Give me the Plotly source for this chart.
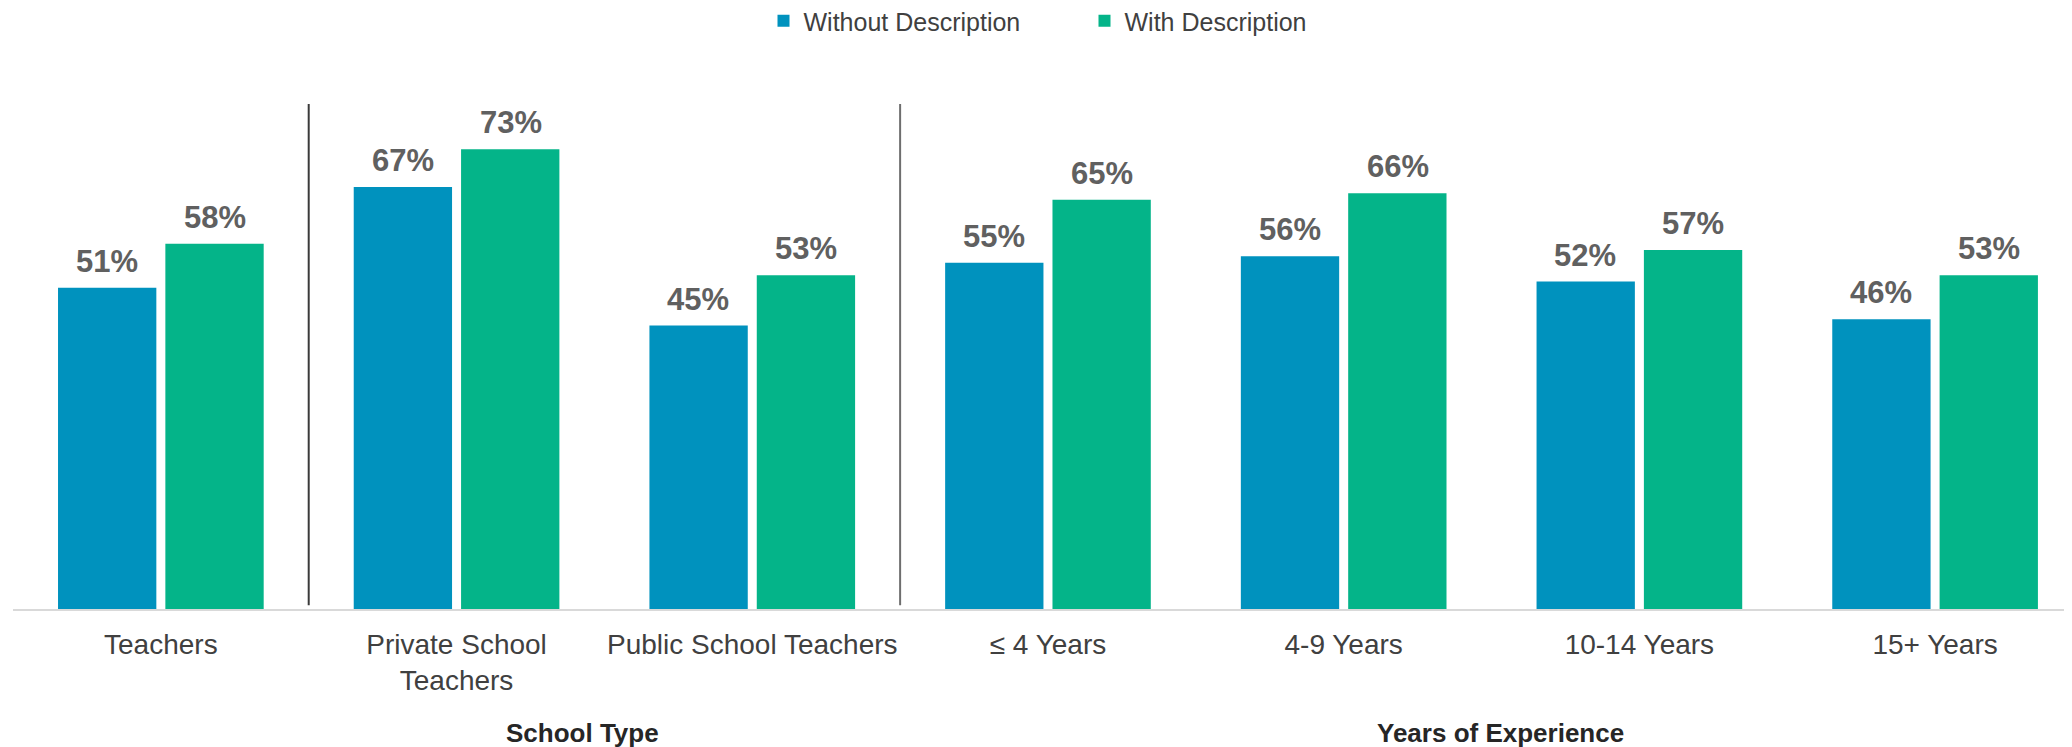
import plotly.graph_objects as go

# --- Dados ---
categorias = ["Teachers", "Private School<br>Teachers", "Public School Teachers",
              "≤ 4 Years", "4-9 Years", "10-14 Years", "15+ Years"]
sem_descricao = [51, 67, 45, 55, 56, 52, 46]
com_descricao = [58, 73, 53, 65, 66, 57, 53]
grupos = ["School Type", "Years of Experience"]

AZUL = "#0092BE"
VERDE = "#04B489"
CINZA_ROTULO = "#606060"
FONTE = "Liberation Sans, Arial, sans-serif"

x = list(range(len(categorias)))

fig = go.Figure()
fig.add_trace(go.Bar(x=x, y=sem_descricao, name="Without Description",
                     marker=dict(color=AZUL, line=dict(width=0))))
fig.add_trace(go.Bar(x=x, y=com_descricao, name="With Description",
                     marker=dict(color=VERDE, line=dict(width=0))))

# rótulos de dados acima das barras
for serie, deslocamento in ((sem_descricao, -54), (com_descricao, 54)):
    for xi, v in zip(x, serie):
        fig.add_annotation(x=xi, y=v, text=f"<b>{v}%</b>", showarrow=False,
                           xref="x", yref="y", xanchor="center", yanchor="bottom",
                           xshift=deslocamento, yshift=7,
                           font=dict(family=FONTE, size=31, color=CINZA_ROTULO))

# linhas divisórias entre blocos
for xd, cor in ((0.5, "#3a3a3a"), (2.5, "#6e6e6e")):
    fig.add_shape(type="line", xref="x", yref="y", x0=xd, x1=xd, y0=0.6, y1=80.2,
                  line=dict(color=cor, width=2))

# títulos dos grupos
for texto, xg in zip(grupos, (1.427, 4.53)):
    fig.add_annotation(x=xg, y=-0.234, xref="x", yref="paper", text=f"<b>{texto}</b>",
                       showarrow=False, yanchor="middle",
                       font=dict(family=FONTE, size=26, color="#262626"))

# a página tem margem de 8px no body, por isso a figura é 8px menor
fig.update_layout(
    width=2064, height=739,
    margin=dict(l=5, r=0, t=72, b=138, autoexpand=False),
    paper_bgcolor="white", plot_bgcolor="white",
    barmode="group", bargap=0.274, bargroupgap=0.084,
    font=dict(family=FONTE, color="#404040"),
    showlegend=True,
    legend=dict(orientation="h", x=0.5204, xanchor="center",
                yref="container", y=0.9824, yanchor="middle",
                font=dict(family=FONTE, size=25, color="#404040"),
                entrywidth=276, itemclick=False),
    xaxis=dict(tickmode="array", tickvals=x, ticktext=categorias,
               range=[-0.5, 6.463], showgrid=False, zeroline=False,
               showline=True, linecolor="#d9d9d9", linewidth=2, automargin=False,
               ticks="", ticklabelstandoff=9,
               tickfont=dict(family=FONTE, size=28, color="#404040")),
    yaxis=dict(range=[0, 84.0], visible=False, showgrid=False, zeroline=False),
)

fig.write_html("out.html")
